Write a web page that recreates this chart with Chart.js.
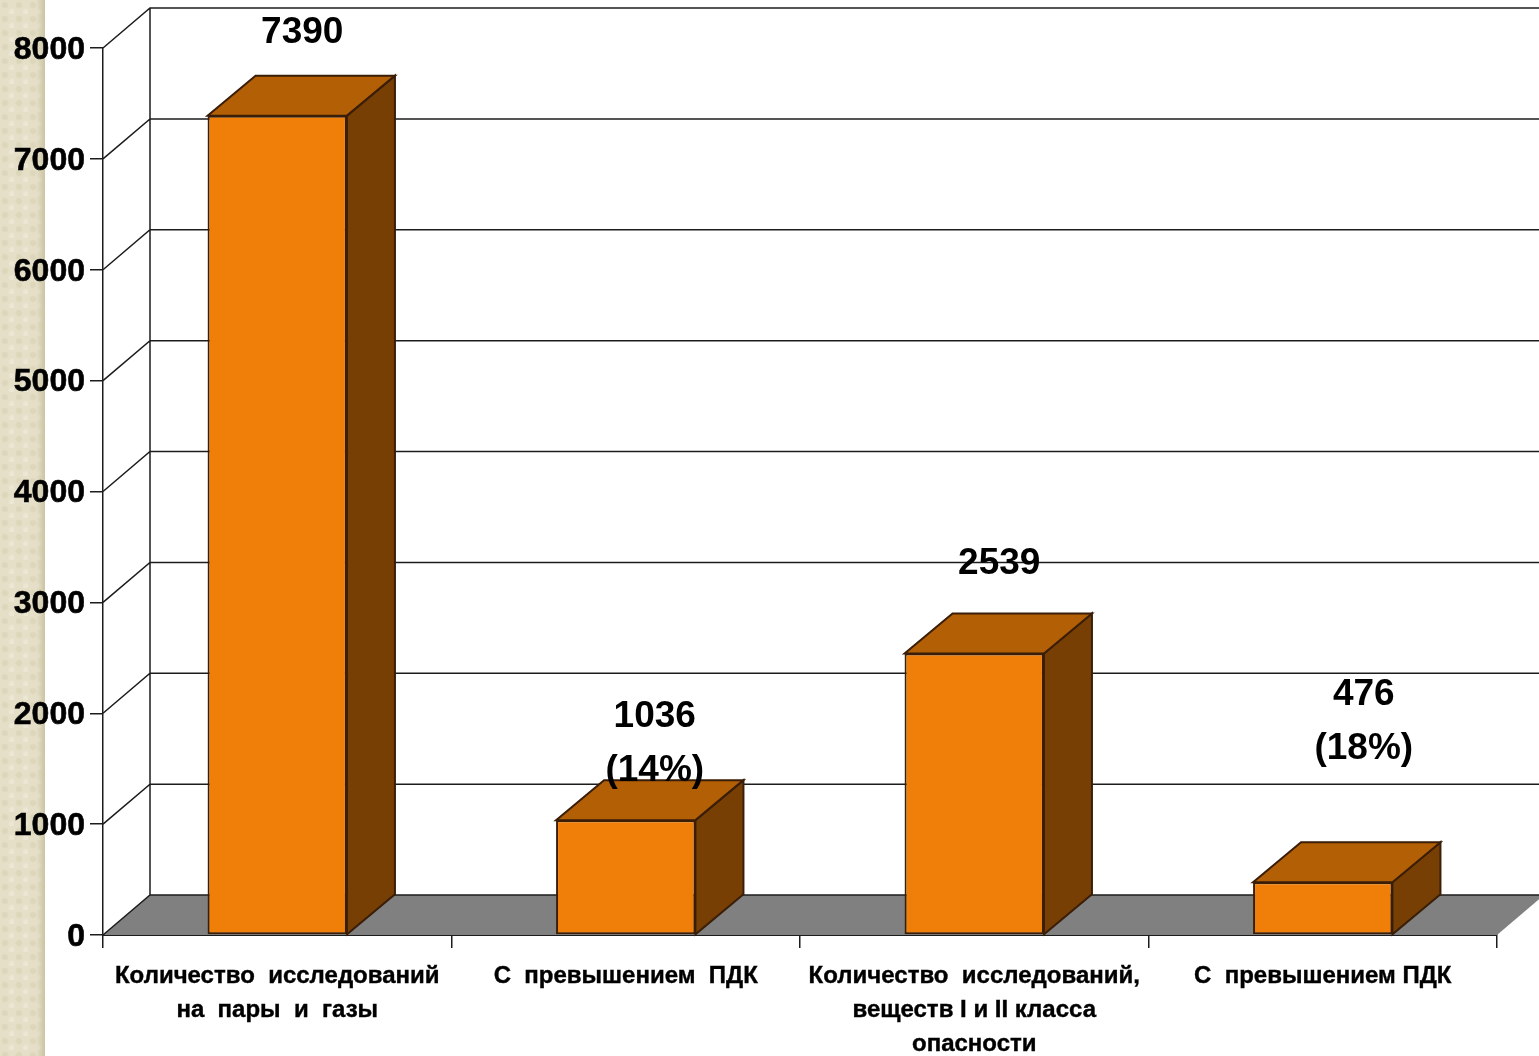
<!DOCTYPE html>
<html lang="ru">
<head>
<meta charset="utf-8">
<title>Исследования</title>
<script src="https://cdn.jsdelivr.net/npm/chart.js@4/dist/chart.umd.min.js"></script>
<style>
    html, body { margin: 0; padding: 0; background: #fff; overflow: hidden; }
    #strip {
        position: absolute; left: 0; top: 0; width: 45px; height: 1056px;
        background-color: #e5dfc8;
        background-image:
            linear-gradient(to right, transparent 36px, #cbc4a4 45px),
            radial-gradient(circle at 5px 5px, #dcd6ba 2px, transparent 4px),
            radial-gradient(circle at 12px 12px, #ece7d4 2px, transparent 4px);
        background-size: 45px 100%, 14px 14px, 14px 14px;
    }
    #chart { position: absolute; left: 0; top: 0; }
</style>
</head>
<body>
<div id="strip"></div>
<canvas id="chart" width="1539" height="1056"></canvas>
<script>
const categories = [
    ['Количество  исследований', 'на  пары  и  газы'],
    'С  превышением  ПДК',
    ['Количество  исследований,', 'веществ I и II класса', 'опасности'],
    'С  превышением ПДК'
];
const values = [7390, 1036, 2539, 476];
const valueLabels = [['7390'], ['1036', '(14%)'], ['2539'], ['476', '(18%)']];
const yTicks = [0, 1000, 2000, 3000, 4000, 5000, 6000, 7000, 8000];

// hand placed label offsets from the top of each bar
const labelShiftX = [25, 29, 25, 41];
const labelShiftY = [-83, -103, -90, -187];

const DEPTH_X = 47;
const BAR_DEPTH_X = 48;
const DEPTH_Y = 40;
const LINE = '#1c1c1c';
const EDGE = '#3a1e08';

function poly(ctx, pts, fill, stroke) {
    ctx.beginPath();
    pts.forEach((p, i) => i ? ctx.lineTo(p[0], p[1]) : ctx.moveTo(p[0], p[1]));
    ctx.closePath();
    if (fill) { ctx.fillStyle = fill; ctx.fill(); }
    if (stroke) { ctx.strokeStyle = stroke; ctx.stroke(); }
}

// Fake 3D: floor, back wall and the top/side faces of the bars
const box3d = {
    id: 'box3d',
    beforeDatasetsDraw(chart) {
        const { ctx, chartArea: a, scales: { y } } = chart;
        const w = chart.width;
        ctx.save();
        ctx.lineWidth = 1.5;

        poly(ctx, [[a.left, a.bottom], [a.right, a.bottom],
            [a.right + DEPTH_X, a.bottom - DEPTH_Y], [a.left + DEPTH_X, a.bottom - DEPTH_Y]], '#808080', null);

        ctx.strokeStyle = LINE;
        ctx.beginPath();
        yTicks.forEach(t => {
            const py = y.getPixelForValue(t);
            ctx.moveTo(a.left, py);
            ctx.lineTo(a.left + DEPTH_X, py - DEPTH_Y);
            ctx.lineTo(w, py - DEPTH_Y);
        });
        ctx.moveTo(a.left + DEPTH_X, y.getPixelForValue(8000) - DEPTH_Y);
        ctx.lineTo(a.left + DEPTH_X, y.getPixelForValue(0) - DEPTH_Y);
        ctx.stroke();

        ctx.lineWidth = 2;
        chart.getDatasetMeta(0).data.forEach(bar => {
            const l = bar.x - bar.width / 2;
            const r = bar.x + bar.width / 2;
            const t = bar.y;
            const b = bar.base;
            poly(ctx, [[r, t], [r + BAR_DEPTH_X, t - DEPTH_Y], [r + BAR_DEPTH_X, b - DEPTH_Y], [r, b]], '#783f04', EDGE);
            poly(ctx, [[l, t], [r, t], [r + BAR_DEPTH_X, t - DEPTH_Y], [l + BAR_DEPTH_X, t - DEPTH_Y]], '#b35f06', EDGE);
        });
        ctx.restore();
    },
    afterDatasetsDraw(chart) {
        const { ctx } = chart;
        ctx.save();
        ctx.fillStyle = '#000';
        ctx.font = 'bold 37px "Liberation Sans", Arial, sans-serif';
        ctx.textAlign = 'center';
        ctx.textBaseline = 'middle';
        chart.getDatasetMeta(0).data.forEach((bar, i) => {
            valueLabels[i].forEach((line, j) => {
                ctx.fillText(line, bar.x + labelShiftX[i], bar.y + labelShiftY[i] + j * 54);
            });
        });
        ctx.restore();
    }
};

Chart.defaults.font.family = '"Liberation Sans", Arial, sans-serif';

new Chart(document.getElementById('chart'), {
    type: 'bar',
    data: {
        labels: categories,
        datasets: [{
            data: values,
            backgroundColor: '#f07f09',
            borderColor: EDGE,
            borderWidth: 2,
            borderSkipped: false,
            categoryPercentage: 1,
            barPercentage: 0.4
        }]
    },
    options: {
        responsive: false,
        animation: false,
        devicePixelRatio: 1,
        layout: { padding: { top: 48, right: 42, left: 0, bottom: 0 } },
        plugins: { legend: { display: false }, tooltip: { enabled: false } },
        scales: {
            x: {
                afterFit(scale) { scale.height = 121; },
                grid: { drawOnChartArea: false, tickLength: 13, color: LINE, lineWidth: 1.5 },
                border: { color: LINE, width: 2 },
                ticks: {
                    color: '#000',
                    padding: 11,
                    maxRotation: 0,
                    autoSkip: false,
                    textStrokeColor: '#000',
                    textStrokeWidth: 0.4,
                    font: { size: 24, weight: 'bold', lineHeight: 1.43 }
                }
            },
            y: {
                min: 0,
                max: 8000,
                afterFit(scale) { scale.width = 103; },
                afterBuildTicks(scale) { scale.ticks = yTicks.map(v => ({ value: v })); },
                grid: { drawOnChartArea: false, tickLength: 13, color: LINE, lineWidth: 1.5 },
                border: { color: LINE, width: 1.5 },
                ticks: {
                    color: '#000',
                    padding: 5,
                    labelOffset: 2,
                    textStrokeColor: '#000',
                    textStrokeWidth: 0.6,
                    callback: v => String(v),
                    font: { size: 32, weight: 'bold' }
                }
            }
        }
    },
    plugins: [box3d]
});
</script>
</body>
</html>
